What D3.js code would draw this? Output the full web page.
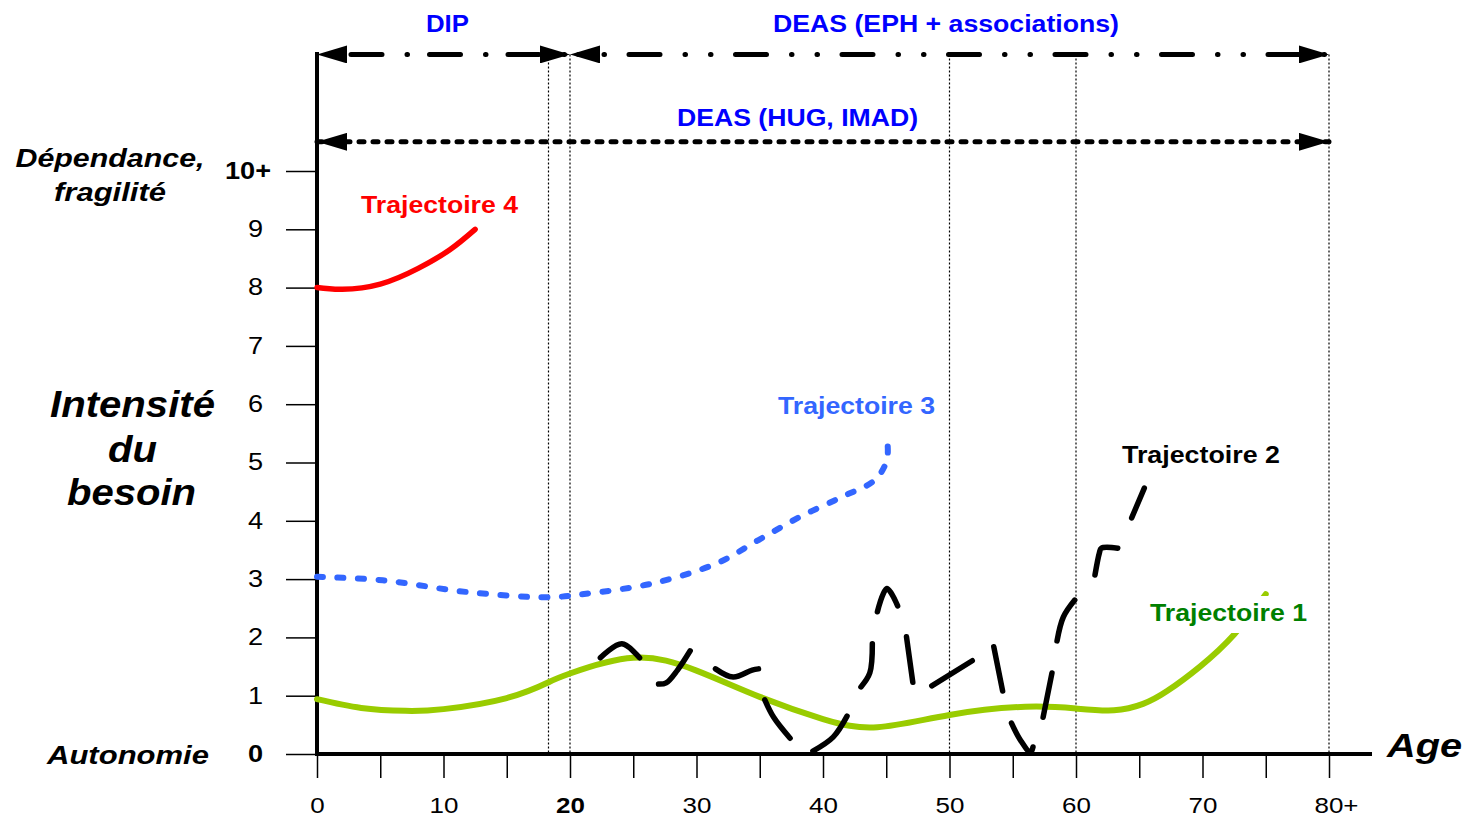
<!DOCTYPE html>
<html lang="fr">
<head>
<meta charset="UTF-8" />
<title>Trajectoires</title>
<style>
  body { margin: 0; background: #fff; }
  text { font-family: "Liberation Sans", Arial, sans-serif; }
</style>
</head>
<body>
<script src="https://d3js.org/d3.v7.min.js"></script>
<script>

// ---- data ----
const yTickLabels = ["0", "1", "2", "3", "4", "5", "6", "7", "8", "9", "10+"];
const xTickAges = [0, 10, 20, 30, 40, 50, 60, 70, 80];
const xTickLabels = ["0", "10", "20", "30", "40", "50", "60", "70", "80+"];
const boundaryAges = [18.3, 20, 50, 60, 80];

const serviceNames = ["DIP", "DEAS (EPH + associations)", "DEAS (HUG, IMAD)"];
const serviceFrom = [0, 20, 0];
const serviceTo = [20, 80, 80];
const serviceLevel = [12, 12, 10.5];

const trajNames = ["Trajectoire 1", "Trajectoire 2", "Trajectoire 3", "Trajectoire 4"];

// trajectoire 1 (green, solid)
const traj1 = [[0, 0.94], [3.5, 0.79], [7, 0.74], [10, 0.77], [15, 0.96], [18.3, 1.23],
  [20, 1.38], [25, 1.65], [30, 1.43], [35, 0.98], [40, 0.6], [44.3, 0.46], [50, 0.67],
  [56, 0.81], [60, 0.78], [63, 0.75], [65.3, 0.86], [67.2, 1.08], [69.8, 1.5], [72.5, 2.05], [75, 2.74]];

// trajectoire 2 (black, hand drawn dashes) - one list per stroke
const traj2 = [
  [[22.4, 1.65], [24.1, 1.89], [25.5, 1.65]],
  [[27.0, 1.20], [27.6, 1.22], [28.5, 1.44], [29.5, 1.77]],
  [[31.5, 1.46], [32.9, 1.32], [34.4, 1.44], [34.9, 1.46]],
  [[35.4, 0.93], [36.1, 0.63], [37.4, 0.27]],
  [[39.2, 0.05], [40.8, 0.29], [41.9, 0.65]],
  [[43.0, 1.15], [43.7, 1.39], [43.9, 1.89]],
  [[44.3, 2.44], [45.05, 2.84], [45.9, 2.54]],
  [[46.6, 2.01], [47.1, 1.23]],
  [[48.6, 1.17], [51.8, 1.60]],
  [[53.5, 1.84], [54.2, 1.08]],
  [[54.9, 0.53], [55.6, 0.24], [56.4, 0.03], [56.6, 0.12]],
  [[57.4, 0.63], [58.1, 1.39]],
  [[58.5, 1.94], [59.0, 2.35], [59.9, 2.64]],
  [[61.5, 3.07], [61.85, 3.45], [62.0, 3.53], [63.3, 3.53]],
  [[64.4, 4.05], [65.4, 4.56]]
];

// trajectoire 3 (blue, dotted)
const traj3 = [[0, 3.04], [5.2, 2.98], [11.8, 2.78], [18.4, 2.69], [21.7, 2.76], [26.6, 2.93],
  [31.6, 3.27], [34.9, 3.67], [38.2, 4.07], [41.5, 4.41], [44.1, 4.70], [45.05, 5.04], [45.1, 5.33]];

// trajectoire 4 (red)
const traj4 = [[0, 8.0], [2, 7.97], [5, 8.06], [8, 8.33], [10.5, 8.65], [12.5, 9.0]];

// ---- layout ----
const width = 1465, height = 817;

const x = d3.scaleLinear([0, 80], [317, 1329]);
const y = d3.scaleLinear([0, 10], [754, 171]);

const svg = d3.select("body").append("svg")
    .attr("width", width)
    .attr("height", height)
    .attr("viewBox", [0, 0, width, height]);

svg.append("rect").attr("width", width).attr("height", height).attr("fill", "#fff");

// stretched text, the source picture is a bit wider than it is tall
function label(txt, cx, base, size, len, o = {}) {
  return svg.append("text")
      .attr("x", cx)
      .attr("y", base)
      .attr("text-anchor", "middle")
      .attr("font-size", size)
      .attr("font-weight", "bold")
      .attr("font-style", o.italic ? "italic" : null)
      .attr("fill", o.color || "#000")
      .attr("textLength", len)
      .attr("lengthAdjust", "spacingAndGlyphs")
      .text(txt);
}

// arrow heads
const defs = svg.append("defs");
defs.append("marker")
    .attr("id", "head")
    .attr("markerUnits", "userSpaceOnUse")
    .attr("viewBox", "0 -9 30 18")
    .attr("markerWidth", 30)
    .attr("markerHeight", 18)
    .attr("refX", 30)
    .attr("refY", 0)
    .attr("orient", "auto-start-reverse")
  .append("path")
    .attr("d", "M0,-9L30,0L0,9Z")
    .attr("fill", "#000");

// vertical dotted limits
svg.append("g")
  .selectAll("line")
  .data(boundaryAges)
  .join("line")
    .attr("x1", d => x(d)).attr("x2", d => x(d))
    .attr("y1", y(12)).attr("y2", y(0))
    .attr("stroke", "#000")
    .attr("stroke-width", 1.2)
    .attr("stroke-dasharray", "2,2");

// service ranges
const serviceDash = [
  { dash: "31,25,0.5,22", offset: 44.5 },
  { dash: "31,25,0.5,25,0.5,24.5", offset: 47.5 },
  { dash: "5,9", offset: 0 }
];
svg.append("g")
  .selectAll("line")
  .data(d3.range(serviceNames.length))
  .join("line")
    .attr("x1", i => x(serviceFrom[i]))
    .attr("x2", i => x(serviceTo[i]))
    .attr("y1", i => y(serviceLevel[i]))
    .attr("y2", i => y(serviceLevel[i]))
    .attr("stroke", "#000")
    .attr("stroke-width", 5)
    .attr("stroke-linecap", "round")
    .attr("stroke-dasharray", i => serviceDash[i].dash)
    .attr("stroke-dashoffset", i => serviceDash[i].offset)
    .attr("marker-start", "url(#head)")
    .attr("marker-end", "url(#head)");

label(serviceNames[0], 447.5, 31.5, 23.5, 43, { color: "#0000FF" });
label(serviceNames[1], 946, 31.5, 23.5, 346, { color: "#0000FF" });
label(serviceNames[2], 797.5, 126, 23.5, 241, { color: "#0000FF" });

// y axis
const yAxis = svg.append("g")
    .attr("transform", `translate(${x(0)},0)`)
    .call(d3.axisLeft(y)
      .tickValues(d3.range(0, 11))
      .tickSize(31)
      .tickFormat(i => yTickLabels[i]))
    .call(g => g.select(".domain").remove());
yAxis.selectAll(".tick line").attr("stroke", "#000").attr("stroke-width", 1.5);
yAxis.selectAll(".tick text")
    .attr("font-family", "Liberation Sans, Arial, sans-serif")
    .attr("font-size", 23)
    .attr("fill", "#000")
    .attr("font-weight", d => (d === 0 || d === 10) ? "bold" : null)
    .attr("x", d => (yTickLabels[d].endsWith("+") ? -46 : -54) / 1.18)
    .attr("transform", "scale(1.18,1)");

// x axis
const xAxis = svg.append("g")
    .attr("transform", `translate(0,${y(0)})`)
    .call(d3.axisBottom(x)
      .tickValues(d3.range(0, 81, 5))
      .tickSize(24)
      .tickPadding(19)
      .tickFormat(d => {
        const k = xTickAges.indexOf(d);
        return k < 0 ? "" : xTickLabels[k];
      }))
    .call(g => g.select(".domain").remove());
xAxis.selectAll(".tick line").attr("stroke", "#000").attr("stroke-width", 1.5);
xAxis.selectAll(".tick text")
    .attr("font-family", "Liberation Sans, Arial, sans-serif")
    .attr("font-size", 22)
    .attr("fill", "#000")
    .attr("font-weight", d => d === 20 ? "bold" : null)
    .attr("x", d => d === 80 ? 7 / 1.18 : 0)
    .attr("transform", "scale(1.18,1)");

// main axis lines
svg.append("line")
    .attr("x1", x(0)).attr("x2", x(0))
    .attr("y1", y(0) + 2).attr("y2", y(12.04))
    .attr("stroke", "#000").attr("stroke-width", 4);
svg.append("line")
    .attr("x1", x(0) - 2).attr("x2", x(83.4))
    .attr("y1", y(0)).attr("y2", y(0))
    .attr("stroke", "#000").attr("stroke-width", 4);

// axis titles
label("Dépendance,", 110, 167, 25, 189, { italic: true });
label("fragilité", 110, 201, 25, 112, { italic: true });
label("Intensité", 132.5, 417, 36, 165, { italic: true });
label("du", 132.5, 462, 36, 49, { italic: true });
label("besoin", 131.5, 505, 36, 129, { italic: true });
label("Autonomie", 128, 764, 26, 162, { italic: true });
label("Age", 1424.5, 757, 34, 75, { italic: true });

// trajectories
const smooth = d3.line()
    .x(d => x(d[0]))
    .y(d => y(d[1]))
    .curve(d3.curveNatural);

const line = d3.line()
    .x(d => x(d[0]))
    .y(d => y(d[1]))
    .curve(d3.curveCatmullRom.alpha(0.5));

svg.append("path")
    .attr("d", smooth(traj1))
    .attr("fill", "none")
    .attr("stroke", "#99CC00")
    .attr("stroke-width", 6)
    .attr("stroke-linecap", "round");

svg.append("path")
    .attr("d", line(traj3))
    .attr("fill", "none")
    .attr("stroke", "#3366FF")
    .attr("stroke-width", 6)
    .attr("stroke-linecap", "round")
    .attr("stroke-dasharray", "6,14.5");

svg.append("path")
    .attr("d", smooth(traj4))
    .attr("fill", "none")
    .attr("stroke", "#FF0000")
    .attr("stroke-width", 5.5)
    .attr("stroke-linecap", "round");

svg.append("g")
  .selectAll("path")
  .data(traj2)
  .join("path")
    .attr("d", line)
    .attr("fill", "none")
    .attr("stroke", "#000")
    .attr("stroke-width", 5.5)
    .attr("stroke-linecap", "round")
    .attr("stroke-linejoin", "round");

// trajectory labels (label 1 sits on a white box that hides the line end)
svg.append("rect")
    .attr("x", 1143).attr("y", 596)
    .attr("width", 170).attr("height", 37)
    .attr("fill", "#fff");
label(trajNames[0], 1228.5, 621, 24, 157, { color: "#008000" });
label(trajNames[1], 1201, 463, 24, 158, { color: "#000" });
label(trajNames[2], 856.5, 414, 24, 157, { color: "#3366FF" });
label(trajNames[3], 439.5, 212.5, 24, 157, { color: "#FF0000" });

</script>
</body>
</html>
